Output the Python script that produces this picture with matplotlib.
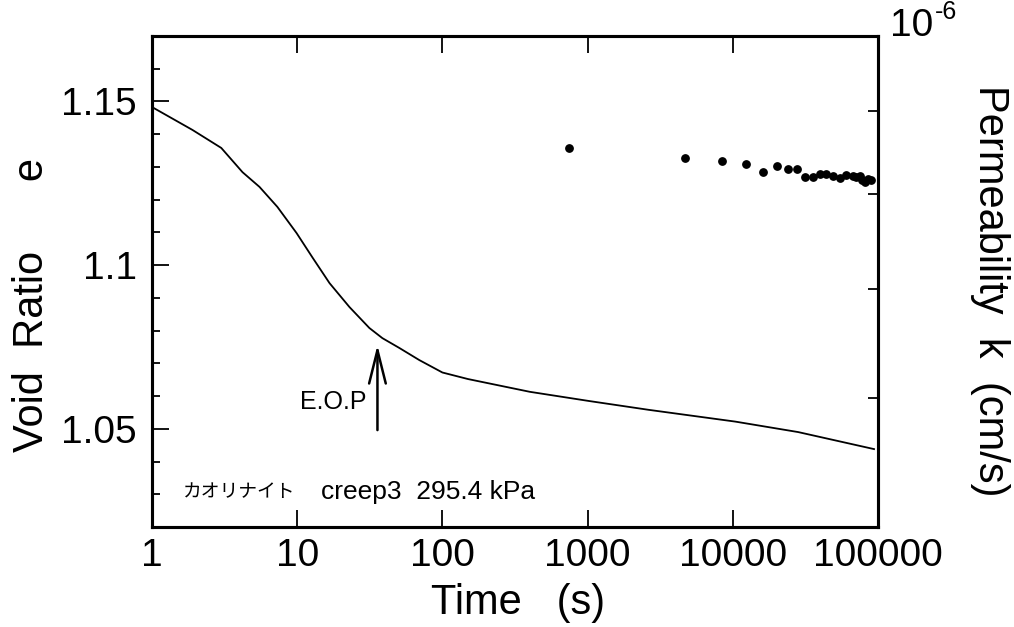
"""Void ratio / permeability vs time for kaolinite creep test 3 (295.4 kPa)."""
import matplotlib
matplotlib.use("Agg")
import matplotlib.pyplot as plt
from matplotlib.ticker import FixedLocator, NullFormatter, NullLocator

plt.rcParams["font.family"] = ["Liberation Sans", "DejaVu Sans"]

# void ratio curve
time_s = [1.0, 1.9, 3.0, 4.2, 5.5, 7.3, 9.9, 12.8, 16.7, 22.9, 31.4, 38.6,
          50.5, 69.3, 100, 150, 400, 1020, 2630, 10400, 28200, 93900]
void_ratio = [1.1483, 1.1413, 1.1358, 1.1284, 1.1239, 1.1178, 1.1098, 1.1022,
              1.0945, 1.0872, 1.0808, 1.0777, 1.0747, 1.0710, 1.0672, 1.0652,
              1.0613, 1.0585, 1.0558, 1.0522, 1.0490, 1.0438]

# permeability points
k_time_s = [750, 4650, 8490, 12400, 16200, 20200, 24100, 27800, 31500, 35800,
            40000, 44000, 49100, 54800, 60300, 67300, 71000, 75200, 78000,
            81400, 85000, 89500]
k_cm_s = [8.54e-7, 8.42e-7, 8.38e-7, 8.35e-7, 8.25e-7, 8.32e-7, 8.29e-7,
          8.29e-7, 8.19e-7, 8.19e-7, 8.23e-7, 8.23e-7, 8.21e-7, 8.18e-7,
          8.22e-7, 8.21e-7, 8.20e-7, 8.21e-7, 8.16e-7, 8.14e-7, 8.17e-7, 8.16e-7]

x_ticks = [1, 10, 100, 1000, 10000, 100000]
x_labels = ["1", "10", "100", "1000", "10000", "100000"]
y_ticks = [1.05, 1.1, 1.15]
y_labels = ["1.05", "1.1", "1.15"]
y_minor = [1.03, 1.04, 1.06, 1.07, 1.08, 1.09, 1.11, 1.12, 1.13, 1.14, 1.16]
k_minor = [6e-7, 7e-7, 8e-7, 9e-7]

eop_time = 35.7
eop_from, eop_to = 1.0496, 1.0756

W, H = 1014, 627
fig = plt.figure(figsize=(W / 100, H / 100), dpi=100)
ax = fig.add_axes([152 / W, 1 - 527 / H, (878 - 152) / W, (527 - 36) / H])

ax.plot(time_s, void_ratio, color="black", lw=1.3)
ax.set_xscale("log")
ax.set_xlim(1, 1e5)
ax.set_ylim(1.02, 1.17)
ax.xaxis.set_major_locator(FixedLocator(x_ticks))
ax.set_xticklabels(x_labels)
ax.xaxis.set_minor_locator(NullLocator())
ax.set_yticks(y_ticks)
ax.set_yticklabels(y_labels)
ax.yaxis.set_minor_locator(FixedLocator(y_minor))
ax.tick_params(which="major", direction="in", top=True, right=False,
               length=12, width=1.3, labelsize=28)
ax.tick_params(axis="x", pad=8)
ax.tick_params(axis="y", pad=11)
ax.tick_params(which="minor", direction="in", right=False, length=6, width=1.3)
for s in ax.spines.values():
    s.set_linewidth(2.2)

# E.O.P arrow
ax.annotate("", xy=(eop_time, eop_to), xytext=(eop_time, eop_from),
            arrowprops=dict(arrowstyle="->,head_length=2.4,head_width=0.6",
                            lw=1.8, color="black", shrinkA=0, shrinkB=0))
ax.text(10.4, 1.0582, "E.O.P", fontsize=18, va="center", ha="left")
ax.text(1.63, 1.0307, "カオリナイト", fontsize=13.5, va="center", ha="left",
        family=["Noto Sans CJK JP", "DejaVu Sans"])
ax.text(14.7, 1.0307, "creep3  295.4 kPa", fontsize=19, va="center", ha="left")

# permeability on the right
ax2 = ax.twinx()
ax2.scatter(k_time_s, k_cm_s, s=28, color="black", zorder=3)
ax2.set_yscale("log")
ax2.set_ylim(5e-7, 1e-6)
ax2.yaxis.set_major_locator(FixedLocator([1e-6]))
ax2.yaxis.set_minor_locator(FixedLocator(k_minor))
ax2.yaxis.set_major_formatter(NullFormatter())
ax2.yaxis.set_minor_formatter(NullFormatter())
ax2.tick_params(which="both", direction="in", length=7, width=1.3)
for s in ax2.spines.values():
    s.set_linewidth(2.2)

fig.text(890 / W, 1 - 36 / H, "10", fontsize=28, ha="left", va="baseline")
fig.text(935 / W, 1 - 19 / H, "-6", fontsize=18, ha="left", va="baseline")
fig.text(518 / W, 1 - 603 / H, "Time   (s)", fontsize=30, ha="center", va="center")
fig.text(32 / W, 1 - 305 / H, "Void  Ratio      e", fontsize=30, rotation=90,
         ha="center", va="center")
fig.text(990 / W, 1 - 291 / H, "Permeability  k  (cm/s)", fontsize=30,
         rotation=270, ha="center", va="center")

fig.savefig("out.png", dpi=100)
